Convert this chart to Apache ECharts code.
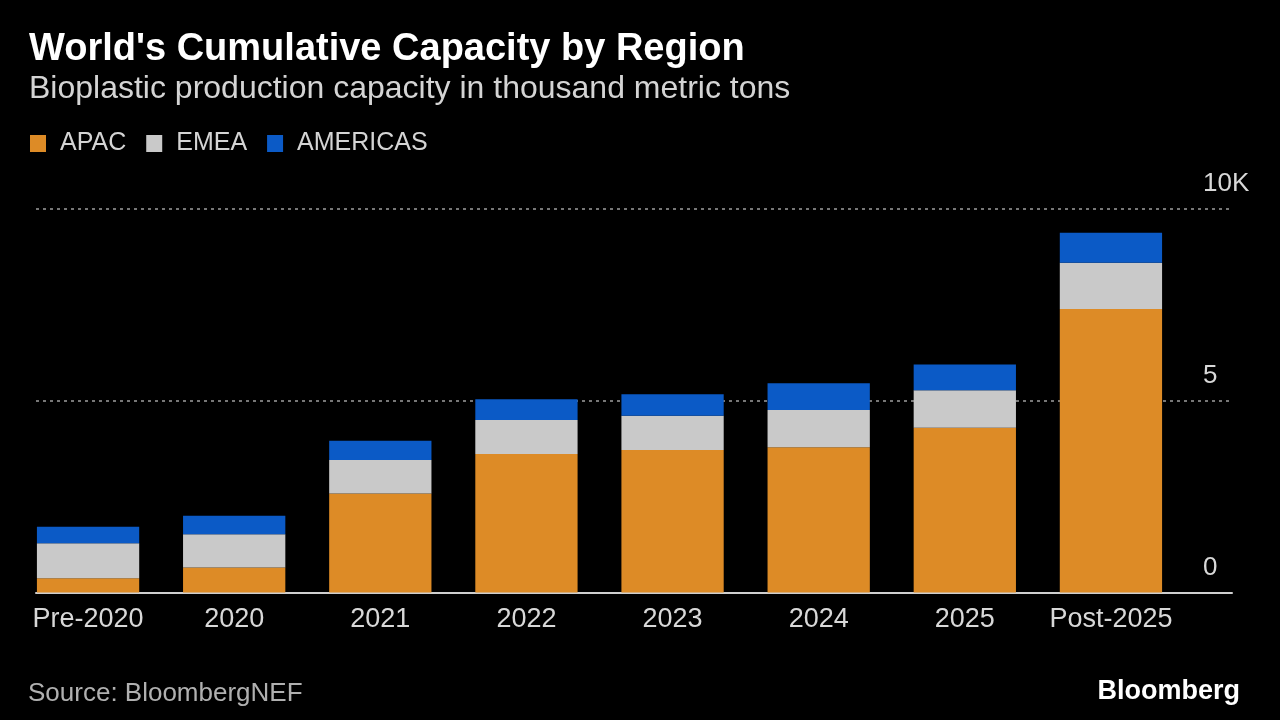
<!DOCTYPE html>
<html>
<head>
<meta charset="utf-8">
<script src="https://cdn.jsdelivr.net/npm/echarts@6/dist/echarts.min.js"></script>
<style>
html,body{margin:0;padding:0;background:#000;}
#c{width:1280px;height:720px;}
</style>
</head>
<body>
<div id="c"></div>
<script>
const categories = ['Pre-2020','2020','2021','2022','2023','2024','2025','Post-2025'];
const apac = [370, 650, 2580, 3610, 3710, 3780, 4290, 7380];
const emea = [910, 870, 870, 880, 890, 970, 980, 1210];
const americas = [430, 480, 500, 540, 560, 700, 670, 780];
const yTicks = {0:'0', 5000:'5', 10000:'10K'};

const FONT = '"Liberation Sans", Arial, sans-serif';
const chart = echarts.init(document.getElementById('c'));
const barW = '70%';
chart.setOption({
  backgroundColor: '#000',
  animation: false,
  textStyle: { fontFamily: FONT },
  title: {
    text: "World's Cumulative Capacity by Region",
    subtext: 'Bioplastic production capacity in thousand metric tons',
    left: 24, top: 26, itemGap: 4,
    textStyle: { color: '#fff', fontSize: 38, fontWeight: 'bold', fontFamily: FONT },
    subtextStyle: { color: '#d4d4d4', fontSize: 32, fontFamily: FONT }
  },
  legend: {
    left: 25, top: 126,
    icon: 'rect', itemWidth: 16, itemHeight: 17, itemGap: 20,
    textStyle: { color: '#d4d4d4', fontSize: 25, fontFamily: FONT, padding: [0,0,0,9] },
    data: ['APAC','EMEA','AMERICAS']
  },
  grid: [
    { left: 15, right: 96, top: 208.5, bottom: 127.5 },
    { left: 36, right: 48, top: 208.5, bottom: 127.5 }
  ],
  xAxis: [
    { type: 'category', gridIndex: 0, data: categories,
      axisLine: { show: false }, axisTick: { show: false },
      axisLabel: { color: '#d8d8d8', fontSize: 27, margin: 14, interval: 0, fontFamily: FONT } },
    { type: 'value', gridIndex: 1, min: 0, max: 1,
      axisLine: { show: true, lineStyle: { color: '#cfcfcf', width: 2 } },
      axisTick: { show: false }, axisLabel: { show: false }, splitLine: { show: false } }
  ],
  yAxis: [
    { type: 'value', gridIndex: 0, min: 0, max: 10000, show: false, splitLine: { show: false } },
    { type: 'value', gridIndex: 1, min: 0, max: 10000, interval: 5000, position: 'right',
      axisLine: { show: false }, axisTick: { show: false },
      axisLabel: { inside: true, align: 'left', verticalAlign: 'bottom', margin: 29,
        padding: [0,0,12,0], color: '#d8d8d8', fontSize: 26, fontFamily: FONT,
        formatter: v => yTicks[v] !== undefined ? yTicks[v] : '' },
      splitLine: { show: true, lineStyle: { color: '#777', type: [3,4], width: 2 } } }
  ],
  series: [
    { name: 'APAC', type: 'bar', stack: 't', xAxisIndex: 0, yAxisIndex: 0, data: apac, barWidth: barW, itemStyle: { color: '#DD8B26' } },
    { name: 'EMEA', type: 'bar', stack: 't', xAxisIndex: 0, yAxisIndex: 0, data: emea, barWidth: barW, itemStyle: { color: '#C9C9C9' } },
    { name: 'AMERICAS', type: 'bar', stack: 't', xAxisIndex: 0, yAxisIndex: 0, data: americas, barWidth: barW, itemStyle: { color: '#0B5AC6' } }
  ],
  graphic: [
    { type: 'text', left: 28, top: 681, style: { text: 'Source: BloombergNEF', fill: '#b0b0b0', font: '26px ' + FONT } },
    { type: 'text', right: 40, top: 678, style: { text: 'Bloomberg', fill: '#ffffff', font: 'bold 27px ' + FONT } }
  ]
});
</script>
</body>
</html>
